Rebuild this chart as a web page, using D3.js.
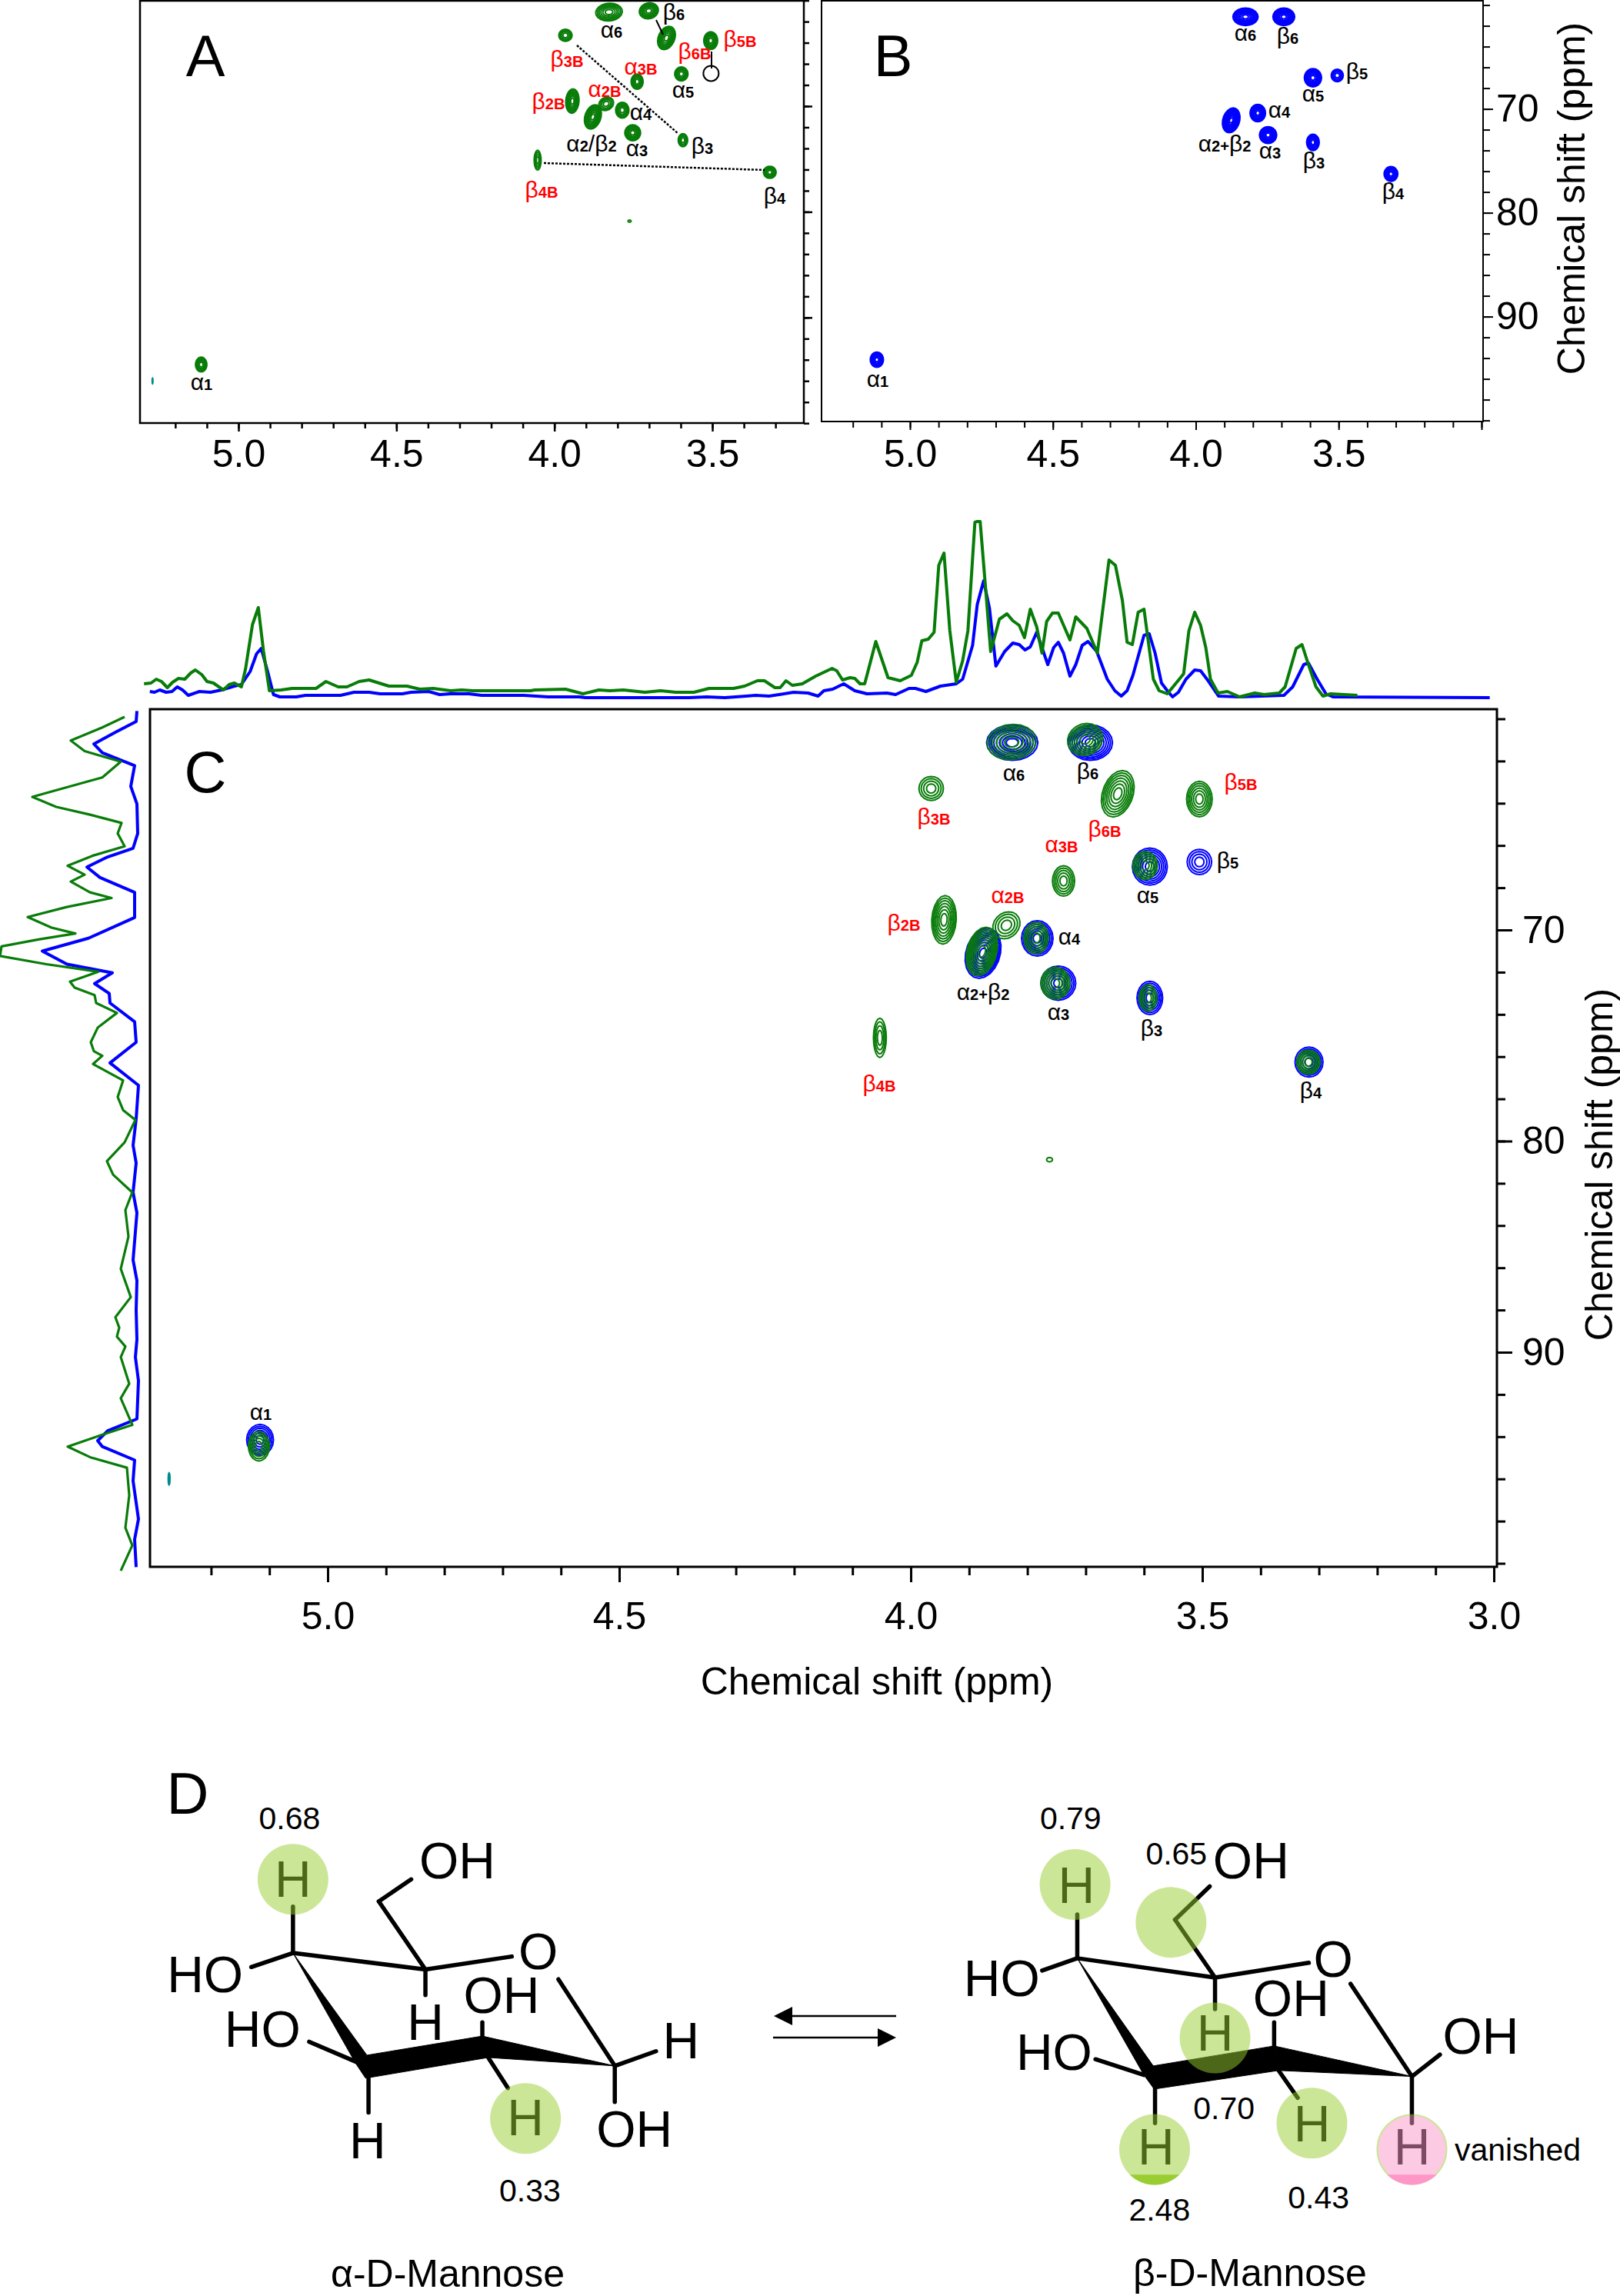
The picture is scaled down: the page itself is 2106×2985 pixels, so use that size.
<!DOCTYPE html>
<html><head><meta charset="utf-8">
<script src="https://cdn.jsdelivr.net/npm/d3@7"></script>
<style>html,body{margin:0;padding:0;background:#fff}svg{display:block}text{font-family:"Liberation Sans",Arial,sans-serif}</style>
</head><body><div id="c"></div>
<script>
// ---------- data ----------
// contour peaks: 1H ppm, 13C ppm, half-width 1H, half-width 13C, skew, number of contour levels
const greenH   =[3.827,3.701,3.645,3.965,3.505,3.738,3.598,3.943,3.836,3.878,3.785,3.752,3.593,4.053,3.318,3.762,5.118];
const greenC   =[61.10,60.98,63.55,63.30,63.80,67.68,66.95,69.52,69.78,71.02,70.38,72.52,73.22,75.11,76.26,80.88,94.45];
const greenRx  =[.042,.030,.027,.021,.022,.019,.021,.021,.023,.026,.021,.025,.015,.011,.020,.005,.018];
const greenRy  =[.84,.76,1.10,.57,.84,.72,.66,1.15,.64,1.15,.75,.75,.62,.93,.57,.10,.70];
const greenSkew=[.003,.003,.008,0,0,0,0,.002,.004,.007,0,0,0,0,0,0,0];
const greenLv  =[6,6,7,4,6,5,5,7,4,8,5,6,4,4,5,1,5];
const blueH    =[3.826,3.692,3.590,3.505,3.783,3.876,3.747,3.590,3.317,5.116];
const blueC    =[61.13,61.13,67.00,66.78,70.40,71.10,72.52,73.22,76.26,94.15];
const blueRx   =[.044,.038,.030,.021,.027,.030,.030,.022,.024,.023];
const blueRy   =[.84,.84,.88,.60,.84,1.19,.81,.79,.71,.73];
const blueSkew =[0,0,0,0,0,.007,0,0,0,0];
const blueLv   =[8,8,7,4,7,10,7,6,6,6];
const tealH=[5.272], tealC=[96.0], tealRx=[.0012], tealRy=[.27];
const missingH=[3.504], missingC=[66.9];
// 1D projection, top (1H ppm, intensity)
const topGreenH=[5.315,5.303,5.294,5.285,5.275,5.266,5.256,5.245,5.235,5.227,5.216,5.207,5.196,5.179,5.169,5.160,5.148,5.141,5.129,5.119,5.110,5.100,5.080,5.061,5.020,5.003,4.982,4.967,4.946,4.929,4.895,4.864,4.842,4.819,4.789,4.770,4.751,4.652,4.645,4.592,4.562,4.535,4.516,4.493,4.456,4.429,4.403,4.372,4.346,4.304,4.285,4.263,4.251,4.233,4.224,4.214,4.203,4.186,4.163,4.135,4.127,4.117,4.104,4.096,4.087,4.079,4.060,4.039,4.018,3.999,3.989,3.981,3.970,3.960,3.952,3.943,3.933,3.922,3.911,3.902,3.890,3.886,3.881,3.871,3.863,3.848,3.835,3.825,3.814,3.805,3.795,3.784,3.775,3.767,3.757,3.747,3.727,3.717,3.698,3.680,3.660,3.649,3.637,3.629,3.620,3.610,3.600,3.584,3.574,3.560,3.532,3.523,3.513,3.503,3.494,3.486,3.473,3.457,3.436,3.410,3.394,3.368,3.358,3.339,3.329,3.318,3.305,3.293,3.280,3.234];
const topGreenI=[21,22,27,24,16,23,28,27,35,39,33,24,22,13,20,22,17,40,98,120,63,12,13,15,15,24,17,17,24,26,18,18,14,15,12,13,12,12,13,14,8,13,12,13,10,12,10,10,15,15,18,25,25,16,16,25,19,21,31,41,38,26,29,28,21,21,76,29,25,32,49,77,79,88,175,191,90,23,51,90,231,232,232,139,63,105,112,103,97,81,118,95,61,102,113,113,78,108,93,61,182,175,129,75,72,114,118,27,12,8,34,90,114,97,68,27,9,11,4,9,7,9,17,67,72,46,17,5,8,6];
const topBlueH=[5.305,5.297,5.288,5.277,5.267,5.258,5.249,5.239,5.220,5.201,5.182,5.160,5.148,5.133,5.122,5.114,5.103,5.093,5.082,5.054,5.038,4.978,4.955,4.929,4.910,4.872,4.857,4.827,4.808,4.789,4.758,4.736,4.664,4.622,4.569,4.558,4.380,4.350,4.319,4.282,4.266,4.243,4.226,4.201,4.176,4.159,4.149,4.134,4.115,4.096,4.075,4.041,4.026,4.003,3.992,3.974,3.949,3.922,3.911,3.894,3.886,3.875,3.865,3.854,3.839,3.825,3.814,3.804,3.795,3.784,3.765,3.755,3.747,3.738,3.727,3.717,3.706,3.696,3.681,3.663,3.650,3.639,3.629,3.619,3.600,3.591,3.581,3.570,3.560,3.551,3.541,3.528,3.513,3.503,3.490,3.472,3.436,3.360,3.345,3.326,3.318,3.303,3.288,3.276,3.007];
const topBlueI=[11,10,13,10,11,17,13,6,11,10,13,18,20,37,60,67,37,7,4,4,6,6,10,10,8,8,10,11,7,8,8,6,6,4,4,3,3,4,3,5,6,5,7,10,9,5,12,14,21,12,8,9,7,15,15,11,18,21,27,71,124,155,119,44,63,74,72,65,69,88,46,68,75,61,31,46,71,76,63,27,12,5,12,32,84,86,61,22,12,4,10,27,39,38,25,5,4,6,17,46,48,27,8,4,3];
// 1D projection, left (13C ppm, intensity)
const leftGreenC=[59.91,60.41,61.03,61.53,62.03,62.78,62.98,63.70,64.17,64.54,64.93,65.43,66.04,66.49,66.96,67.38,67.71,68.22,68.49,68.91,69.39,69.89,70.17,70.45,70.78,71.23,71.62,71.98,72.45,72.73,73.09,73.46,73.93,74.63,75.32,75.74,75.96,76.35,77.13,77.91,78.53,79.0,80.06,80.95,81.59,82.43,83.27,84.52,86.05,87.39,88.34,88.84,89.26,89.73,90.23,91.49,92.18,93.44,93.91,94.47,94.97,95.47,96.78,98.31,99.15,100.35];
const leftGreenI=[20,49,90,72,25,49,69,140,109,65,24,29,20,62,94,72,90,65,37,95,146,115,84,132,180,182,122,54,91,85,59,57,30,55,64,60,49,61,22,29,22,6,20,43,35,10,19,15,25,12,32,27,30,19,25,14,25,10,49,94,65,17,14,19,10,25];
const leftBlueC=[59.63,60.13,60.64,61.19,61.61,62.22,63.20,64.03,65.43,66.13,66.54,67.02,67.52,68.22,69.41,70.39,71.0,71.62,72.03,72.54,73.01,73.46,74.35,75.32,76.30,77.36,78.95,80.2,81.04,82.43,83.4,85.63,86.61,88.0,89.4,90.23,91.35,93.16,93.72,94.19,94.47,95.11,96.09,97.9,98.87,100.18];
const leftBlueI=[4,5,32,60,49,7,12,4,3,9,42,69,52,7,7,67,127,95,36,59,40,39,7,5,39,2,5,9,5,9,4,9,4,5,4,6,2,4,42,55,49,7,9,2,7,5];
// tick labels
const xMajor=[5.0,4.5,4.0,3.5,3.0];
const xTicks=d3.range(30,53).map(d=>d/10).filter(d=>d<=5.3);
const yMajor=[70,80,90];
const yTicks=d3.range(60,101,2);
const axisTitle="Chemical shift (ppm)";
// ---------- annotation text ----------
const labelsA=[["α6",795,41],["β6",876,20],["β3B",737,81,1],["β6B",903,71,1],["β5B",962,55,1],["α3B",833,89,1],["α5",888,119],["α2B",786,118,1],["β2B",713,136,1],["α4",833,148],["α2/β2",769,189],["α3",828,195],["β3",913,194],["β4B",704,251,1],["β4",1007,259],["α1",262,499]];
const labelsB=[["α6",1619,45],["β6",1674,51],["β5",1764,97],["α5",1707,124],["α4",1663,145],["α2+β2",1592,189],["α3",1651,198],["β3",1708,213],["β4",1811,253],["α1",1141,495]];
const labelsC=[["α6",1318,1007],["β6",1414,1007],["β3B",1214,1066,1],["β5B",1613,1021,1],["β6B",1436,1082,1],["α3B",1380,1100,1],["β5",1596,1123],["α5",1492,1166],["α2B",1310,1166,1],["β2B",1175,1204,1],["α4",1390,1220],["α2+β2",1278,1292],["α3",1376,1318],["β3",1497,1341],["β4B",1143,1413,1],["β4",1704,1422],["α1",339,1838]];

// ---------- helpers ----------
const W=2106,H=2985,GREEN="#087c08",BLUE="#0000ff",RED="#ff0000",TEAL="#008b8b";
const svg=d3.select("#c").append("svg").attr("width",W).attr("height",H).attr("viewBox",[0,0,W,H]);
svg.append("rect").attr("width",W).attr("height",H).attr("fill","#fff");
const angles=d3.range(0,2*Math.PI,2*Math.PI/20);
function contours(g,xs,ys,h,c,rx,ry,skew,lv,color,sw){
  const line=d3.line().curve(d3.curveLinearClosed);
  h.forEach((_,i)=>{
    const n=lv?lv[i]:1;
    d3.range(n).forEach(k=>{
      const s=Math.pow(1-k/n,0.7);
      const sk=skew?skew[i]:0;
      const pts=angles.map(t=>[xs(h[i]+s*(rx[i]*Math.cos(t)+sk*Math.sin(t))),ys(c[i]+s*ry[i]*Math.sin(t))]);
      g.append("path").attr("d",line(pts)).attr("fill","none").attr("stroke",color).attr("stroke-width",sw);
    });
  });
}
function addLabels(list,size){
  list.forEach(([t,x,y,red])=>{
    const isB=t[0]==="β";
    const el=svg.append("text").attr("x",x).attr("y",y+(isB?6:8)).attr("text-anchor","middle").attr("fill",red?RED:"#000");
    for(const ch of t){
      if("αβ/".includes(ch)) el.append("tspan").attr("font-size",size).text(ch);
      else el.append("tspan").attr("font-size",size*0.67).attr("font-weight","bold").text(ch);
    }
  });
}
function axes(g,scaleX,scaleY,o){
  const xg=g.append("g").attr("transform",`translate(0,${o.bottom})`);
  xg.call(d3.axisBottom(scaleX).tickValues(o.xt).tickSize(o.xMinor).tickFormat(""));
  xg.append("g").call(d3.axisBottom(scaleX).tickValues(o.xm).tickSize(o.xMajor).tickPadding(o.xPad).tickFormat(d3.format(".1f")));
  xg.selectAll(".domain").remove();
  xg.selectAll("line").attr("stroke-width",o.tw);
  xg.selectAll("text").attr("font-size",50).attr("fill","#000").attr("font-family","Liberation Sans");
  const yg=g.append("g").attr("transform",`translate(${o.right},0)`);
  yg.call(d3.axisRight(scaleY).tickValues(yTicks).tickSize(o.yMinor).tickFormat(""));
  if(o.yLabels) yg.append("g").call(d3.axisRight(scaleY).tickValues(yMajor).tickSize(o.yMajor).tickPadding(o.yPad).tickFormat(d3.format("d")));
  else yg.append("g").call(d3.axisRight(scaleY).tickValues(yMajor).tickSize(o.yMajor).tickFormat(""));
  yg.selectAll(".domain").remove();
  yg.selectAll("line").attr("stroke-width",o.tw);
  yg.selectAll("text").attr("font-size",50).attr("fill","#000").attr("font-family","Liberation Sans");
}
function frame(x0,y0,x1,y1,sw){
  svg.append("rect").attr("x",x0).attr("y",y0).attr("width",x1-x0).attr("height",y1-y0).attr("fill","none").attr("stroke","#000").attr("stroke-width",sw);
}
function panelLetter(t,x,y){svg.append("text").attr("x",x).attr("y",y).attr("text-anchor","middle").attr("font-size",76).attr("fill","#000").text(t);}

// ---------- panel A ----------
const xA=d3.scaleLinear().domain([5,3.5]).range([310,926]);
const yA=d3.scaleLinear().domain([70,90]).range([138,412.8]);
const gA=svg.append("g");
contours(gA,xA,yA,tealH,tealC,tealRx,tealRy,null,null,TEAL,2);
contours(gA,xA,yA,greenH,greenC,greenRx,greenRy,greenSkew,greenLv,GREEN,2);
frame(182,1,1045,550,2.5);
axes(gA,xA,yA,{bottom:550,right:1045,xt:xTicks.filter(d=>d>=3.3),xm:xMajor.filter(d=>d>=3.5),xMinor:7,xMajor:11,xPad:10,yMinor:7,yMajor:11,yLabels:false,tw:2.5});
gA.append("circle").attr("cx",xA(missingH[0])).attr("cy",yA(missingC[0])).attr("r",10).attr("fill","none").attr("stroke","#000").attr("stroke-width",2);
[[853,26,862,45],[925,67,925,89]].forEach(l=>gA.append("line").attr("x1",l[0]).attr("y1",l[1]).attr("x2",l[2]).attr("y2",l[3]).attr("stroke","#000").attr("stroke-width",2));
[[750,59,882,174],[707,212,994,221]].forEach(l=>gA.append("line").attr("x1",l[0]).attr("y1",l[1]).attr("x2",l[2]).attr("y2",l[3]).attr("stroke","#000").attr("stroke-width",2.5).attr("stroke-dasharray","3 2"));
addLabels(labelsA,30);
panelLetter("A",267,99);

// ---------- panel B ----------
const xB=d3.scaleLinear().domain([5,3]).range([1183,1926]);
const yB=d3.scaleLinear().domain([70,90]).range([141.6,411.6]);
const gB=svg.append("g");
contours(gB,xB,yB,blueH,blueC,blueRx,blueRy,blueSkew,blueLv,BLUE,2);
frame(1068,1,1928,548,2);
axes(gB,xB,yB,{bottom:548,right:1928,xt:xTicks,xm:xMajor.filter(d=>d>=3.5).concat([3.0]),xMinor:8,xMajor:11,xPad:12,yMinor:9,yMajor:13,yPad:4,yLabels:true,tw:2});
gB.selectAll("text").filter(d=>d===3.0).remove();
addLabels(labelsB,30);
panelLetter("B",1161,99);
svg.append("text").attr("transform","translate(2060,258) rotate(-90)").attr("text-anchor","middle").attr("font-size",50).attr("fill","#000").text(axisTitle);

// ---------- panel C ----------
const xC=d3.scaleLinear().domain([5,3]).range([426,1942]);
const yC=d3.scaleLinear().domain([70,90]).range([1209,1758]);
const gC=svg.append("g");
contours(gC,xC,yC,tealH,tealC,tealRx,tealRy,null,null,TEAL,2.5);
contours(gC,xC,yC,blueH,blueC,blueRx,blueRy,blueSkew,blueLv,BLUE,2);
contours(gC,xC,yC,greenH,greenC,greenRx,greenRy,greenSkew,greenLv,GREEN,2);
frame(195,922,1946,2037,3);
axes(gC,xC,yC,{bottom:2037,right:1946,xt:xTicks,xm:xMajor,xMinor:11,xMajor:20,xPad:25,yMinor:11,yMajor:20,yPad:13,yLabels:true,tw:3});
addLabels(labelsC,30);
panelLetter("C",267,1030);
svg.append("text").attr("x",1140).attr("y",2203).attr("text-anchor","middle").attr("font-size",50).attr("fill","#000").text(axisTitle);
svg.append("text").attr("transform","translate(2096,1514) rotate(-90)").attr("text-anchor","middle").attr("font-size",50).attr("fill","#000").text(axisTitle);

// projections
const topI=d3.scaleLinear().domain([0,250]).range([910,660]);
const leftI=d3.scaleLinear().domain([0,182]).range([182,0]);
const lineT=d3.line().x(d=>xC(d[0])).y(d=>topI(d[1]));
const lineL=d3.line().x(d=>leftI(d[1])).y(d=>yC(d[0]));
const drawLine=(gen,a,b,col,sw)=>svg.append("path").attr("d",gen(d3.zip(a,b))).attr("fill","none").attr("stroke",col).attr("stroke-width",sw).attr("stroke-linejoin","round");
drawLine(lineT,topBlueH,topBlueI,BLUE,4);
drawLine(lineT,topGreenH,topGreenI,GREEN,4);
drawLine(lineL,leftBlueC,leftBlueI,BLUE,4);
drawLine(lineL,leftGreenC,leftGreenI,GREEN,3.2);

// ---------- panel D : structures ----------
const gD=svg.append("g");
function molecule(map,o){
  const m=p=>map(p[0],p[1]);
  o.bonds.forEach(b=>{const a=m(b.slice(0,2)),c=m(b.slice(2,4));
    gD.append("line").attr("x1",a[0]).attr("y1",a[1]).attr("x2",c[0]).attr("y2",c[1]).attr("stroke","#000").attr("stroke-width",5.5).attr("stroke-linecap","round");});
  o.wedges.forEach(w=>gD.append("path").attr("d",d3.line()(w.map(m))+"Z").attr("fill","#000").attr("stroke","#000").attr("stroke-width",1));
  o.atoms.forEach(t=>{const a=m(t.slice(1,3));
    gD.append("text").attr("x",a[0]).attr("y",a[1]+24).attr("text-anchor","middle").attr("font-size",66).attr("fill","#000").text(t[0]);});
  o.blobs.forEach(b=>{const a=m(b);
    gD.append("circle").attr("cx",a[0]).attr("cy",a[1]).attr("r",46).attr("fill","rgb(154,205,50)").attr("opacity",.5);});
  o.numbers.forEach(t=>{const a=m(t.slice(1,3));
    gD.append("text").attr("x",a[0]).attr("y",a[1]+15).attr("text-anchor","middle").attr("font-size",41).attr("fill","#000").text(t[0]);});
}
const mapAlpha=(x,y)=>[150+x/1.568,2270+y/2.193];
const mapBeta=(x,y)=>[1200+x/1.731,2270+y/2.193];
molecule(mapAlpha,{
  bonds:[[362,458,362,590],[362,590,277,630],[362,590,632,637],[632,637,808,600],[632,637,537,443],[537,443,603,380],[632,637,632,710],[903,665,1018,912],[1018,912,1102,870],[1018,912,1018,1015],[395,843,490,900],[516,945,516,1045],[748,827,748,788],[760,888,800,975]],
  wedges:[[[362,590],[512,880],[490,905]],[[510,882],[748,827],[760,888],[510,947],[490,905]],[[748,827],[1018,912],[760,888]]],
  atoms:[["H",362,378],["HO",183,650],["OH",697,325],["O",862,583],["H",632,785],["OH",787,708],["HO",300,805],["H",1153,838],["OH",1058,1090],["H",514,1122],["H",836,1058]],
  blobs:[[362,380],[836,1062]],
  numbers:[["0.68",355,203],["0.33",845,1265]]
});
molecule(mapBeta,{
  bonds:[[347,480,347,605],[347,605,268,640],[347,605,657,660],[657,660,868,618],[657,660,567,495],[567,495,645,400],[657,660,657,750],[962,678,1100,942],[1100,942,1163,880],[1100,942,1100,1075],[388,893,497,938],[522,975,522,1075],[790,855,790,788],[800,925,843,1003]],
  wedges:[[[347,605],[518,912],[497,938]],[[518,912],[790,855],[800,925],[520,978],[497,938]],[[790,855],[1100,942],[800,925]]],
  atoms:[["H",345,395],["HO",177,660],["OH",738,325],["O",923,605],["OH",828,718],["HO",295,870],["OH",1255,825],["H",657,815],["H",875,1075],["H",524,1140],["H",1100,1140]],
  blobs:[[342,395],[558,503],[657,832],[875,1075],[521,1150]],
  numbers:[["0.79",332,205],["0.65",570,305],["0.70",677,1030],["2.48",532,1320],["0.43",890,1285]]
});
// strips and the pink "vanished" mark
const defs=svg.append("defs");
const b1=mapBeta(521,1150), b2=mapBeta(1100,1150), stripY=mapBeta(0,1222)[1];
defs.append("clipPath").attr("id","s1").append("circle").attr("cx",b1[0]).attr("cy",b1[1]).attr("r",46);
defs.append("clipPath").attr("id","s2").append("circle").attr("cx",b2[0]).attr("cy",b2[1]).attr("r",46);
gD.append("rect").attr("x",b1[0]-50).attr("y",stripY).attr("width",100).attr("height",30).attr("fill","rgb(154,205,50)").attr("clip-path","url(#s1)");
gD.append("circle").attr("cx",b2[0]).attr("cy",b2[1]).attr("r",45).attr("fill","rgb(250,150,200)").attr("opacity",.5).attr("stroke","rgb(154,205,50)").attr("stroke-width",2);
gD.append("rect").attr("x",b2[0]-50).attr("y",stripY).attr("width",100).attr("height",30).attr("fill","rgb(255,150,200)").attr("clip-path","url(#s2)");
let p=mapBeta(1338,1150);
gD.append("text").attr("x",p[0]).attr("y",p[1]+15).attr("text-anchor","middle").attr("font-size",41).attr("fill","#000").text("vanished");
// arrows
gD.append("line").attr("x1",1022).attr("y1",2621).attr("x2",1165).attr("y2",2621).attr("stroke","#000").attr("stroke-width",2.5);
gD.append("path").attr("d","M1006,2621L1030,2609L1030,2633Z").attr("fill","#000");
gD.append("line").attr("x1",1005).attr("y1",2649).attr("x2",1148).attr("y2",2649).attr("stroke","#000").attr("stroke-width",2.5);
gD.append("path").attr("d","M1165,2649L1141,2637L1141,2661Z").attr("fill","#000");
// captions
panelLetter("D",244,2358);
gD.append("text").attr("x",582).attr("y",2973).attr("text-anchor","middle").attr("font-size",50).attr("fill","#000").text("α-D-Mannose");
gD.append("text").attr("x",1625).attr("y",2972).attr("text-anchor","middle").attr("font-size",50).attr("fill","#000").text("β-D-Mannose");
</script></body></html>
